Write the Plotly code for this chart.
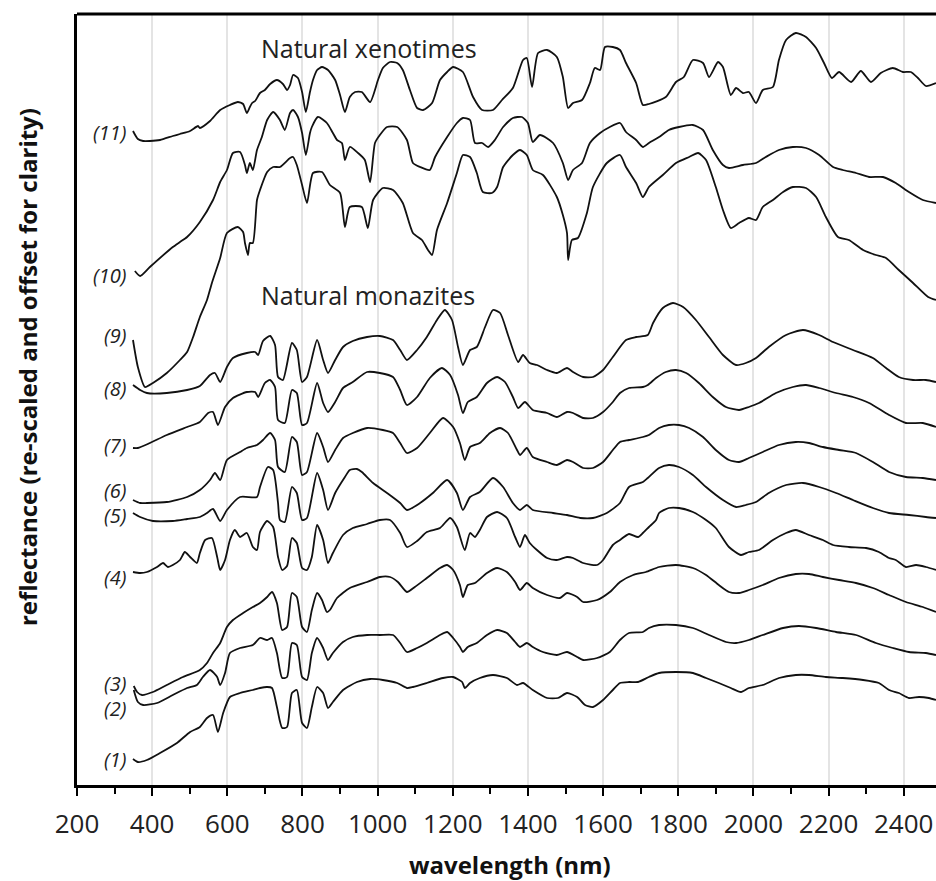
import plotly.graph_objects as go

# Wavelength (nm), reflectance (arbitrary, re-scaled and offset) pairs
s11 = [(349,654),(362,646),(376,644),(394,644),(421,645),(455,649),(474,651),(501,654),(522,659),(527,657),(554,664),(581,675),(607,680),(628,683),(642,681),(652,672),(660,678),(666,682),(674,684),(687,692),(700,695),(714,701),(732,705),(748,701),(759,695),(767,700),(775,710),(788,707),(799,693),(809,673),(820,693),(828,705),(839,715),(852,718),(868,715),(887,705),(900,690),(913,673),(926,688),(940,693),(958,693),(980,683),(1001,705),(1014,717),(1033,723),(1052,722),(1067,715),(1086,695),(1105,677),(1121,675),(1145,682),(1166,705),(1185,713),(1201,718),(1227,713),(1254,688),(1278,675),(1307,675),(1331,685),(1360,697),(1387,725),(1397,727),(1411,698),(1427,732),(1451,735),(1477,728),(1493,708),(1507,677),(1520,682),(1544,685),(1565,702),(1578,717),(1592,715),(1605,738),(1626,738),(1645,735),(1661,722),(1688,702),(1706,680),(1722,681),(1767,688),(1794,703),(1815,708),(1839,725),(1866,722),(1882,708),(1906,723),(1919,718),(1940,690),(1954,697),(1972,692),(1988,693),(2007,682),(2025,695),(2052,698),(2068,725),(2087,745),(2113,752),(2140,748),(2167,737),(2188,722),(2209,707),(2228,713),(2260,703),(2286,714),(2313,703),(2339,712),(2371,717),(2398,713),(2419,713),(2438,707),(2459,699),(2486,702)]
s10 = [(354,514),(368,509),(394,518),(455,538),(474,543),(493,548),(527,563),(562,585),(581,603),(599,615),(615,632),(634,633),(647,620),(652,612),(660,622),(668,615),(679,635),(692,648),(706,665),(722,673),(740,665),(753,655),(767,672),(775,675),(788,668),(799,652),(809,630),(820,652),(825,658),(841,668),(865,662),(881,652),(892,645),(905,642),(913,625),(926,638),(948,632),(966,625),(980,603),(993,642),(1006,650),(1025,658),(1052,658),(1078,645),(1094,622),(1113,618),(1139,615),(1153,628),(1185,648),(1211,662),(1227,667),(1246,665),(1259,642),(1278,642),(1294,638),(1312,645),(1334,658),(1360,667),(1384,668),(1400,662),(1413,643),(1432,650),(1467,642),(1493,622),(1507,605),(1520,615),(1544,622),(1565,642),(1592,652),(1618,658),(1645,662),(1661,653),(1688,645),(1706,638),(1722,642),(1749,648),(1775,655),(1802,658),(1839,660),(1866,655),(1892,635),(1919,620),(1935,617),(1972,620),(2007,622),(2033,628),(2068,635),(2105,638),(2140,637),(2175,630),(2212,618),(2238,615),(2273,612),(2308,608),(2345,608),(2379,602),(2414,593),(2451,585),(2486,582)]
s9 = [(349,445),(362,418),(381,398),(402,402),(439,412),(474,425),(493,433),(509,448),(527,468),(546,485),(559,502),(581,527),(599,552),(628,558),(642,553),(647,542),(655,530),(660,542),(668,542),(679,585),(687,595),(706,613),(722,618),(740,618),(767,627),(775,628),(785,620),(799,600),(812,582),(828,612),(852,613),(873,600),(900,592),(913,558),(926,578),(958,578),(974,557),(988,585),(1014,597),(1041,595),(1067,582),(1094,552),(1118,545),(1134,535),(1145,530),(1158,555),(1185,582),(1211,612),(1227,630),(1246,628),(1264,612),(1280,593),(1304,592),(1318,598),(1334,618),(1360,630),(1379,635),(1397,630),(1413,615),(1440,610),(1477,588),(1493,570),(1504,552),(1507,525),(1517,545),(1533,547),(1557,572),(1573,598),(1610,622),(1645,630),(1661,618),(1688,602),(1706,588),(1722,598),(1759,610),(1794,622),(1829,628),(1853,632),(1874,625),(1900,598),(1919,575),(1940,557),(1962,562),(1988,567),(2007,565),(2025,578),(2052,585),(2079,593),(2105,598),(2140,597),(2167,588),(2193,568),(2225,548),(2254,545),(2292,535),(2326,530),(2353,527),(2387,515),(2425,502),(2465,488),(2486,485)]
s8 = [(349,400),(368,395),(386,392),(439,392),(493,395),(527,399),(554,410),(567,412),(581,403),(599,418),(615,427),(652,432),(674,433),(682,430),(695,444),(714,449),(727,440),(735,408),(748,405),(772,442),(785,435),(799,403),(812,408),(839,445),(855,425),(868,412),(887,425),(908,438),(934,444),(972,448),(1006,449),(1041,445),(1060,435),(1078,425),(1105,435),(1131,448),(1158,465),(1179,475),(1198,465),(1214,438),(1227,420),(1246,435),(1264,438),(1286,458),(1307,475),(1326,472),(1347,450),(1374,423),(1387,430),(1405,422),(1424,420),(1451,415),(1477,412),(1504,417),(1520,413),(1547,408),(1573,408),(1600,415),(1626,428),(1661,445),(1688,448),(1719,450),(1733,462),(1759,477),(1786,482),(1813,478),(1847,465),(1882,448),(1919,430),(1954,420),(1980,422),(2007,427),(2041,438),(2087,450),(2132,455),(2175,450),(2212,443),(2265,435),(2318,427),(2353,417),(2387,408),(2425,405),(2459,405),(2486,403)]
s7 = [(349,337),(362,337),(394,342),(439,350),(493,358),(527,363),(549,372),(562,373),(575,360),(594,378),(615,387),(652,393),(674,393),(682,388),(700,402),(714,405),(727,398),(735,365),(753,362),(772,395),(785,392),(799,360),(812,362),(839,402),(855,382),(868,373),(887,383),(908,397),(934,403),(972,413),(1006,412),(1041,408),(1060,395),(1078,380),(1105,388),(1139,407),(1171,417),(1193,410),(1214,390),(1227,372),(1240,383),(1264,388),(1291,402),(1318,408),(1339,403),(1360,388),(1374,377),(1392,383),(1413,375),(1451,372),(1477,368),(1504,373),(1520,372),(1547,367),(1573,367),(1600,373),(1626,383),(1645,392),(1669,397),(1706,398),(1719,400),(1741,407),(1767,413),(1794,415),(1821,412),(1855,402),(1892,388),(1927,378),(1962,375),(1988,378),(2015,382),(2060,392),(2105,398),(2140,400),(2175,397),(2220,392),(2265,388),(2308,382),(2361,370),(2406,362),(2451,362),(2486,358)]
s6 = [(349,285),(368,282),(386,282),(439,283),(493,288),(527,295),(554,305),(567,312),(581,305),(599,325),(634,333),(652,337),(679,340),(695,345),(714,352),(727,345),(735,318),(753,313),(772,348),(785,343),(799,310),(812,313),(839,352),(855,338),(868,323),(887,335),(908,347),(934,352),(972,357),(1014,355),(1041,352),(1060,342),(1078,332),(1105,337),(1139,352),(1174,367),(1201,358),(1219,342),(1232,325),(1246,338),(1272,342),(1299,352),(1326,357),(1347,352),(1371,335),(1379,330),(1397,337),(1413,328),(1451,323),(1477,320),(1504,325),(1520,323),(1547,317),(1573,317),(1600,323),(1626,335),(1645,343),(1669,345),(1706,348),(1722,350),(1749,357),(1775,360),(1802,360),(1829,357),(1866,348),(1900,335),(1935,325),(1962,323),(1988,327),(2025,333),(2068,340),(2113,343),(2148,342),(2185,338),(2228,335),(2273,332),(2318,323),(2361,313),(2406,308),(2451,307),(2486,305)]
s5 = [(349,272),(368,268),(402,264),(455,264),(493,266),(527,268),(546,272),(562,276),(581,264),(599,275),(634,288),(679,288),(687,298),(708,318),(722,315),(735,282),(740,265),(753,263),(772,298),(785,292),(799,265),(812,267),(839,312),(855,295),(868,275),(887,292),(913,308),(926,315),(945,316),(958,313),(988,302),(1025,292),(1060,282),(1078,275),(1113,282),(1147,292),(1185,305),(1211,292),(1227,275),(1246,288),(1272,293),(1307,307),(1334,298),(1360,282),(1379,275),(1397,280),(1413,275),(1467,272),(1504,270),(1539,267),(1573,267),(1610,272),(1645,282),(1669,298),(1706,303),(1719,307),(1749,317),(1775,320),(1802,318),(1839,310),(1874,298),(1919,285),(1954,278),(1980,280),(2007,283),(2041,292),(2087,300),(2132,302),(2175,298),(2220,292),(2265,285),(2318,277),(2361,272),(2414,270),(2459,268),(2486,267)]
s4 = [(349,213),(368,212),(386,213),(413,218),(429,222),(442,218),(455,220),(474,225),(487,233),(501,228),(519,222),(527,232),(541,245),(559,247),(573,228),(581,215),(594,225),(607,245),(620,255),(634,248),(652,252),(668,238),(679,235),(687,253),(706,264),(722,258),(735,228),(746,215),(759,219),(772,247),(785,242),(799,217),(812,215),(825,228),(839,260),(855,245),(868,222),(881,232),(908,250),(934,257),(972,261),(1006,265),(1033,265),(1060,252),(1078,238),(1105,244),(1131,253),(1166,257),(1193,267),(1211,258),(1232,235),(1246,252),(1259,248),(1272,255),(1291,268),(1318,273),(1344,267),(1366,248),(1379,238),(1392,250),(1405,242),(1424,235),(1451,227),(1477,225),(1504,228),(1520,227),(1547,222),(1584,220),(1600,225),(1626,240),(1645,245),(1669,251),(1693,248),(1706,252),(1722,258),(1741,265),(1749,272),(1775,277),(1802,277),(1839,273),(1874,265),(1900,257),(1935,238),(1967,230),(1988,233),(2015,235),(2052,245),(2087,252),(2113,255),(2148,250),(2185,245),(2212,240),(2254,238),(2300,237),(2334,233),(2361,227),(2379,225),(2406,218),(2433,220),(2459,218),(2486,215)]
s3 = [(351,99),(360,93),(373,90),(402,93),(439,100),(482,108),(527,115),(546,122),(562,132),(581,142),(599,158),(615,165),(642,172),(668,178),(687,182),(706,188),(719,193),(732,182),(746,155),(759,158),(772,192),(785,188),(799,158),(812,153),(825,175),(839,192),(852,185),(865,173),(873,175),(892,187),(926,197),(972,203),(1006,208),(1033,208),(1054,203),(1078,193),(1099,198),(1131,207),(1166,217),(1185,220),(1201,215),(1219,200),(1227,188),(1240,200),(1259,202),(1291,212),(1318,217),(1344,213),(1366,203),(1379,195),(1397,202),(1413,197),(1451,190),(1485,187),(1504,192),(1531,188),(1547,183),(1584,185),(1618,193),(1645,203),(1680,210),(1714,213),(1749,218),(1794,220),(1839,217),(1874,210),(1908,200),(1935,193),(1962,192),(1988,195),(2025,200),(2068,207),(2113,211),(2148,211),(2185,208),(2228,205),(2273,202),(2318,197),(2361,190),(2406,183),(2451,178),(2486,173)]
s2 = [(351,95),(362,83),(376,80),(413,82),(455,90),(493,97),(519,100),(535,108),(554,115),(573,108),(581,100),(594,112),(607,132),(634,137),(668,140),(687,147),(706,145),(719,147),(732,132),(746,107),(759,108),(772,142),(785,140),(799,108),(812,105),(825,132),(839,147),(855,137),(868,125),(881,132),(908,143),(934,148),(972,150),(1006,150),(1041,150),(1060,142),(1078,133),(1105,137),(1131,142),(1166,150),(1185,153),(1201,147),(1219,138),(1227,133),(1240,138),(1264,142),(1291,150),(1318,155),(1344,152),(1366,143),(1379,138),(1397,142),(1413,138),(1440,133),(1477,130),(1504,133),(1531,128),(1547,125),(1584,127),(1618,133),(1645,145),(1669,152),(1706,153),(1722,157),(1749,160),(1794,160),(1839,157),(1882,150),(1927,143),(1954,142),(1988,145),(2025,150),(2079,157),(2121,159),(2167,157),(2220,153),(2273,150),(2326,142),(2371,137),(2414,133),(2459,132),(2486,130)]
s1 = [(349,26),(362,23),(386,25),(421,32),(466,42),(501,53),(527,58),(546,67),(562,70),(575,53),(589,72),(607,88),(634,92),(668,95),(687,97),(706,98),(719,97),(732,78),(746,57),(759,58),(772,92),(785,95),(799,62),(812,57),(825,78),(839,98),(855,92),(868,77),(881,83),(908,95),(945,103),(980,106),(1014,105),(1052,102),(1078,97),(1094,98),(1131,102),(1174,107),(1201,108),(1225,103),(1232,97),(1246,102),(1272,107),(1307,110),(1344,107),(1371,100),(1387,102),(1413,95),(1451,87),(1480,87),(1504,92),(1531,88),(1552,80),(1573,78),(1600,85),(1626,95),(1645,102),(1669,103),(1693,103),(1722,108),(1749,112),(1794,113),(1839,112),(1874,107),(1908,102),(1940,97),(1967,93),(1988,97),(2025,100),(2068,107),(2113,110),(2148,110),(2193,108),(2238,107),(2292,105),(2334,102),(2361,95),(2387,92),(2414,87),(2441,88),(2467,87),(2486,85)]

series = [s1, s2, s3, s4, s5, s6, s7, s8, s9, s10, s11]
labels = ["(1)", "(2)", "(3)", "(4)", "(5)", "(6)", "(7)", "(8)", "(9)", "(10)", "(11)"]
label_y = [26, 77, 102, 208, 270, 295, 340, 397, 450, 510, 653]
label_x = 336

group_names = ["Natural xenotimes", "Natural monazites"]
group_x = [684, 684]
group_y = [737, 490]

x_ticks = list(range(200, 2401, 200))

fig = go.Figure()
for s in series:
    fig.add_trace(go.Scatter(
        x=[p[0] for p in s], y=[p[1] for p in s], mode="lines",
        line=dict(color="#111111", width=1.8, shape="spline", smoothing=0.6),
        hoverinfo="skip", showlegend=False))

for t, yv in zip(labels, label_y):
    fig.add_annotation(x=label_x, y=yv, xref="x", yref="y", text="<i>" + t + "</i>",
                       showarrow=False, xanchor="right", yanchor="middle",
                       font=dict(family="Open Sans", size=20, color="#222222"))

for t, xv, yv in zip(group_names, group_x, group_y):
    fig.add_annotation(x=xv, y=yv, xref="x", yref="y", text=t, showarrow=False,
                       xanchor="left", yanchor="middle",
                       font=dict(family="Open Sans", size=25, color="#222222"))

fig.add_annotation(x=-0.0582, y=0.542, xref="paper", yref="paper",
                   text="<b>reflectance (re-scaled and offset for clarity)</b>",
                   textangle=-90, showarrow=False, xanchor="center", yanchor="middle",
                   font=dict(family="Open Sans", size=24, color="#111111"))
fig.add_annotation(x=0.5035, y=-0.1025, xref="paper", yref="paper",
                   text="<b>wavelength (nm)</b>", showarrow=False,
                   xanchor="center", yanchor="middle",
                   font=dict(family="Open Sans", size=24, color="#111111"))

fig.add_shape(type="line", xref="paper", yref="paper", x0=0, x1=1, y0=1, y1=1,
              line=dict(color="black", width=3))

fig.update_layout(
    width=936, height=881,
    margin=dict(l=77, r=0, t=14, b=96),
    plot_bgcolor="white", paper_bgcolor="white",
    showlegend=False,
    font=dict(family="Open Sans", color="#111111"),
)
fig.update_xaxes(
    range=[200, 2486], tickmode="array", tickvals=x_ticks,
    ticktext=[str(v) for v in x_ticks],
    ticks="outside", ticklen=8, tickwidth=2, tickcolor="black",
    showline=True, linecolor="black", linewidth=3, mirror=False,
    showgrid=True, gridcolor="#e4e4e4", gridwidth=1.5, zeroline=False,
    tickfont=dict(family="Open Sans", size=26, color="#222222"),
    ticklabelstandoff=6,
    minor=dict(dtick=100, tick0=200, ticks="outside", ticklen=6, tickwidth=2,
               tickcolor="black", showgrid=False),
)
fig.update_yaxes(
    range=[0, 771], showticklabels=False, ticks="", showgrid=False, zeroline=False,
    showline=True, linecolor="black", linewidth=3,
)

fig.write_html(
    "out.html",
    config={"displayModeBar": False},
    post_script="document.body.style.margin='0';document.body.style.padding='0';"
                "document.documentElement.style.overflow='hidden';",
)
